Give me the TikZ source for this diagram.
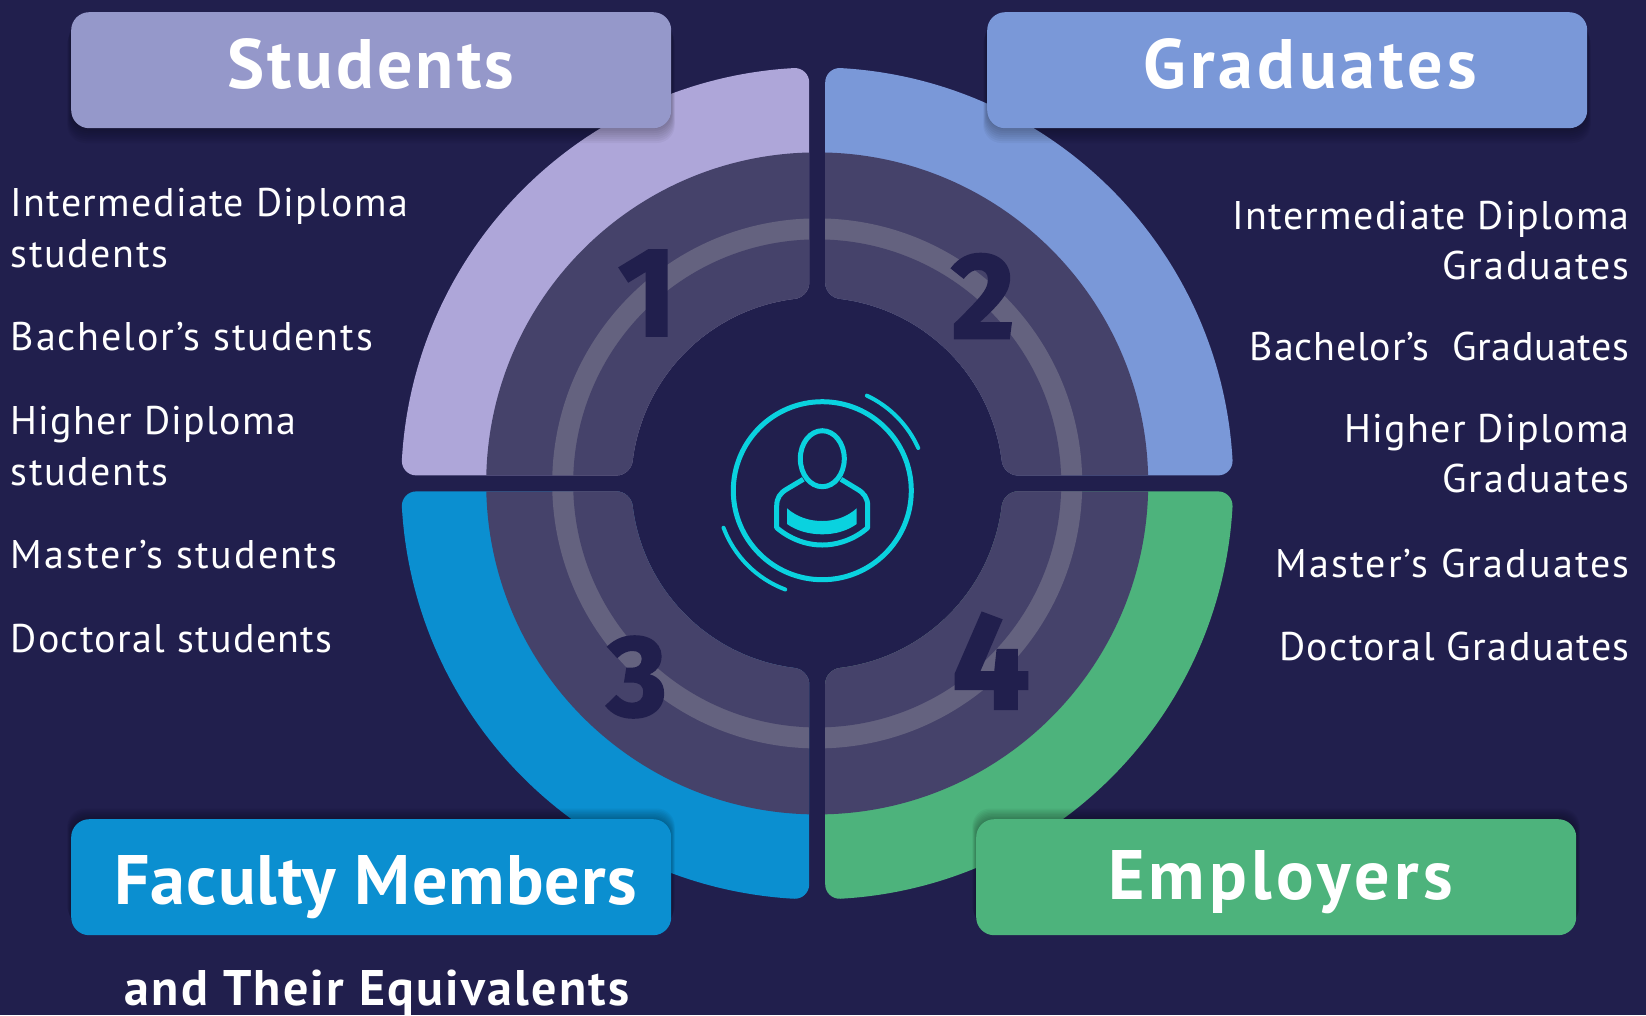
\documentclass[tikz,border=0pt]{standalone}
\usepackage{fontspec}
\usetikzlibrary{shapes.geometric}
\setmainfont{PT Sans}
\newfontfamily\numfont[BoldFeatures={FakeBold=2}]{Fira Sans}
\definecolor{bgc}{HTML}{211F4D}
\definecolor{purplec}{HTML}{AEA6D9}
\definecolor{purplebox}{HTML}{9598CA}
\definecolor{bluec}{HTML}{7A98D8}
\definecolor{cyanc}{HTML}{0B8FD0}
\definecolor{greenc}{HTML}{4DB37C}
\definecolor{ringd}{HTML}{45426A}
\definecolor{ringl}{HTML}{64627F}
\definecolor{iconc}{HTML}{0AD2DF}
\newcommand{\ls}[2]{{\addfontfeature{LetterSpace=#1}#2}}
\tikzset{
  titlebox/.style={rounded corners=18pt,minimum width=600pt,minimum height=116pt,inner sep=0pt,anchor=north west},
  titletext/.style={text=white,font=\fontsize{70}{70}\selectfont\bfseries,anchor=base,inner sep=0pt},
  itemL/.style={text=white,font=\fontsize{40}{40}\selectfont,anchor=base west,inner sep=0pt},
  itemR/.style={text=white,font=\fontsize{40}{40}\selectfont,anchor=base east,inner sep=0pt},
  numtext/.style={text=bgc,font=\fontsize{#1}{#1}\selectfont\numfont\bfseries,anchor=center,inner sep=0pt},
  iconline/.style={draw=iconc,line width=5pt},
  iconarc/.style={draw=iconc,line width=4pt,line cap=round},
}
\newcommand{\sectorpath}{
  (200.8,8) -- (400.9,8) .. controls (409.15,8) and (415.6,14.75) .. (3.17:416)
  arc[start angle=3.17,end angle=86.83,radius=416]
  .. controls (14.75,415.6) and (8,409.15) .. (8,400.9) -- (8,200.8)
  .. controls (8,192.55) and (14.75,185.3) .. (82.9:186)
  arc[start angle=82.9,end angle=7.1,radius=186]
  .. controls (185.3,14.75) and (192.55,8) .. (200.8,8) -- cycle
}
\newcommand{\quadrant}[2]{
  \begin{scope}[shift={(817.2,483.4)},rotate=#1]
    \clip \sectorpath;
    \fill[#2] (0,0) circle (417);
    \fill[ringd] (0,0) circle (331);
    \fill[ringl] (0,0) circle (265);
    \fill[ringd] (0,0) circle (244);
  \end{scope}
}
\newcommand{\softshadow}[5]{
  \foreach \s in {1,3,...,15}{
    \fill[black,opacity=0.04,rounded corners=18pt]
      ({#1-0.25*\s},{#2+#5*\s}) rectangle ({#3+0.25*\s},{#4+#5*\s});
  }
}
\begin{document}
\begin{tikzpicture}[x=1pt,y=1pt,yscale=-1]
\useasboundingbox (0,0) rectangle (1646,1015);
\fill[bgc] (0,0) rectangle (1646,1015);
\quadrant{0}{greenc}
\quadrant{90}{cyanc}
\quadrant{180}{purplec}
\quadrant{270}{bluec}
% numbers
\node[numtext=126] (n1) at (647.5,293) {1};
\node[numtext=122] (n2) at (983,296) {2};
\node[numtext=115] (n3) at (637,677) {3};
\node[numtext=138] (n4) at (991,661) {4};
% icon
\node[circle,iconline,minimum size=178pt,inner sep=0pt] (ring) at (822.3,490.7) {};
\draw[iconarc] (822.3,490.7) ++(-64.9:105) arc[start angle=-64.9,end angle=-24,radius=105];
\draw[iconarc] (822.3,490.7) ++(159.5:105.5) arc[start angle=159.5,end angle=110.6,radius=105.5];
\node[ellipse,iconline,minimum width=44pt,minimum height=56pt,inner sep=0pt] (head) at (822.3,458.7) {};
\draw[iconline,line join=round] (803.3,479.3) -- (787,489)
  .. controls (780,493) and (776.7,498) .. (776.7,506) -- (776.7,527.7)
  .. controls (790,539) and (806,545) .. (822.3,545)
  .. controls (838,545) and (855,539) .. (867.7,527.7) -- (867.7,506)
  .. controls (867.7,498) and (864,493) .. (857,489) -- (841,479.3);
\fill[iconc] (787,508.3) .. controls (797,517) and (809,521) .. (822.3,521)
  .. controls (835,521) and (847,517) .. (856.7,508.3) -- (856.7,524)
  .. controls (847,531) and (835,534.3) .. (822.3,534.3)
  .. controls (809,534.3) and (797,531) .. (787,524) -- cycle;
% boxes
\softshadow{71}{12}{671}{128}{1}
\softshadow{71}{819}{671}{934}{-0.7}
\softshadow{976}{819}{1576}{934}{-0.7}
\softshadow{987}{12}{1587}{128}{1}
\node[titlebox,fill=purplebox] (students) at (71,12) {};
\node[titlebox,fill=bluec] (graduates) at (987,12) {};
\node[titlebox,fill=cyanc] (faculty) at (71,819) {};
\node[titlebox,fill=greenc] (employers) at (976,819) {};
\node[titletext] (tstudents) at (371,88) {\ls{4.5}{Students}};
\node[titletext] (tgraduates) at (1310,88) {\ls{5.7}{Graduates}};
\node[titletext] (tfaculty) at (375.5,904) {\ls{1.6}{Faculty Members}};
\node[titletext] (temployers) at (1280.5,899.6) {\ls{6.1}{Employers}};
\node[titletext,font=\fontsize{50}{50}\selectfont\bfseries] (tequiv) at (377,1005) {\ls{4.5}{and Their Equivalents}};
% left list
\node[itemL] (l1) at (10.5,216.5) {\ls{3.3}{Intermediate Diploma}};
\node[itemL] (l2) at (10.5,267.2) {\ls{4.2}{students}};
\node[itemL] (l3) at (10.5,350) {\ls{4.9}{Bachelor’s students}};
\node[itemL] (l4) at (10.5,434) {\ls{3.3}{Higher Diploma}};
\node[itemL] (l5) at (10.5,485) {\ls{4.2}{students}};
\node[itemL] (l6) at (10.5,568) {\ls{5.4}{Master’s students}};
\node[itemL] (l7) at (10.5,652) {\ls{3.3}{Doctoral students}};
% right list
\node[itemR] (r1) at (1630,229) {\ls{3.3}{Intermediate Diploma}};
\node[itemR] (r2) at (1630,279) {\ls{5.2}{Graduates}};
\node[itemR] (r3) at (1630,360) {\ls{2}{Bachelor’s\ \ Graduates}};
\node[itemR] (r4) at (1630,442) {\ls{3.3}{Higher Diploma}};
\node[itemR] (r5) at (1630,492.5) {\ls{5.2}{Graduates}};
\node[itemR] (r6) at (1630,577) {\ls{5.5}{Master’s Graduates}};
\node[itemR] (r7) at (1630,660) {\ls{3.7}{Doctoral Graduates}};
\end{tikzpicture}
\end{document}
